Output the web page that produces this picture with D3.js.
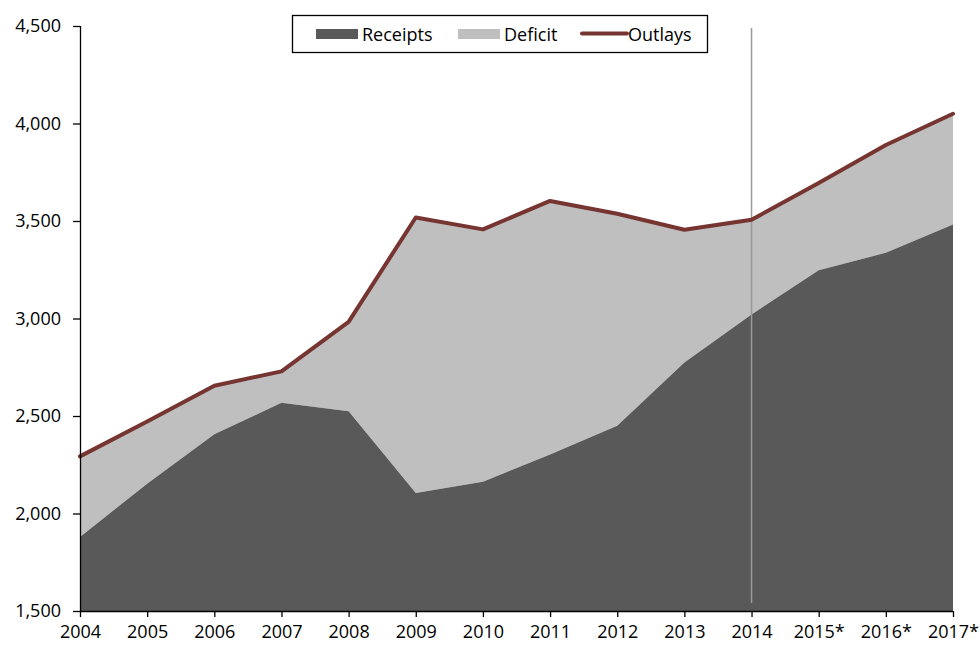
<!DOCTYPE html>
<html><head><meta charset="utf-8">
<script src="https://cdn.jsdelivr.net/npm/d3@7"></script>
<style>
body{margin:0;background:#fff;}
text{font-family:"Open Sans",sans-serif;}
</style></head>
<body><svg id="c" width="980" height="645"></svg>
<script>
const years = ["2004","2005","2006","2007","2008","2009","2010","2011","2012","2013","2014","2015*","2016*","2017*"];
const receipts = [1880,2153,2406,2568,2524,2105,2163,2303,2450,2775,3021,3248,3337,3482];
const outlays  = [2293,2472,2655,2729,2983,3518,3457,3603,3537,3455,3506,3695,3890,4050];
const yTicks = [1500,2000,2500,3000,3500,4000,4500];
const seriesNames = ["Receipts","Deficit","Outlays"];
const markerYear = "2014";

const svg = d3.select("#c");
const L=80, R=953, T=26, B=611;
const x = d3.scalePoint().domain(years).range([L,R]);
const y = d3.scaleLinear().domain([1500,4500]).range([B,T]);
const data = years.map((yr,i)=>({yr, r:receipts[i], o:outlays[i]}));

// deficit area (between receipts and outlays)
svg.append("path").datum(data)
  .attr("fill","#bfbfbf")
  .attr("d", d3.area().x(d=>x(d.yr)).y0(d=>y(d.r)).y1(d=>y(d.o)));
// receipts area
svg.append("path").datum(data)
  .attr("fill","#595959")
  .attr("d", d3.area().x(d=>x(d.yr)).y0(y(1500)).y1(d=>y(d.r)));
// vertical marker
svg.append("line")
  .attr("x1",x(markerYear)).attr("x2",x(markerYear))
  .attr("y1",28).attr("y2",603)
  .attr("stroke","#999").attr("stroke-width",1.5);
// outlays line
svg.append("path").datum(data)
  .attr("fill","none").attr("stroke","#763530").attr("stroke-width",4)
  .attr("stroke-linejoin","round").attr("stroke-linecap","round")
  .attr("d", d3.line().x(d=>x(d.yr)).y(d=>y(d.o)));

// axes
const ya = svg.append("g").attr("transform",`translate(${L},0)`)
  .call(d3.axisLeft(y).tickValues(yTicks).tickSize(7).tickPadding(12).tickFormat(d3.format(",")));
const xa = svg.append("g").attr("transform",`translate(0,${B})`)
  .call(d3.axisBottom(x).tickSize(6).tickPadding(8));
[ya,xa].forEach(g=>{
  g.selectAll("path,line").attr("stroke","#000").attr("stroke-width",1.3);
  g.selectAll("text").attr("font-family","Open Sans").attr("font-size",18).attr("fill","#000");
});
ya.select(".domain").attr("d",`M0.5,${B}V${T}`);
xa.select(".domain").attr("d",`M${L},0.5H${R}`);

// legend
const lg = svg.append("g");
lg.append("rect").attr("x",292.5).attr("y",15.5).attr("width",415).attr("height",37)
  .attr("fill","#fff").attr("stroke","#000").attr("stroke-width",1.3);
lg.append("rect").attr("x",316).attr("y",29).attr("width",42).attr("height",10).attr("fill","#595959");
lg.append("text").attr("x",362).attr("y",40.5).attr("font-size",18).text(seriesNames[0]);
lg.append("rect").attr("x",458).attr("y",29).attr("width",42).attr("height",10).attr("fill","#bfbfbf");
lg.append("text").attr("x",504).attr("y",40.5).attr("font-size",18).text(seriesNames[1]);
lg.append("line").attr("x1",582).attr("x2",627).attr("y1",33.5).attr("y2",33.5)
  .attr("stroke","#763530").attr("stroke-width",4).attr("stroke-linecap","round");
lg.append("text").attr("x",628).attr("y",40.5).attr("font-size",18).text(seriesNames[2]);
</script></body></html>
